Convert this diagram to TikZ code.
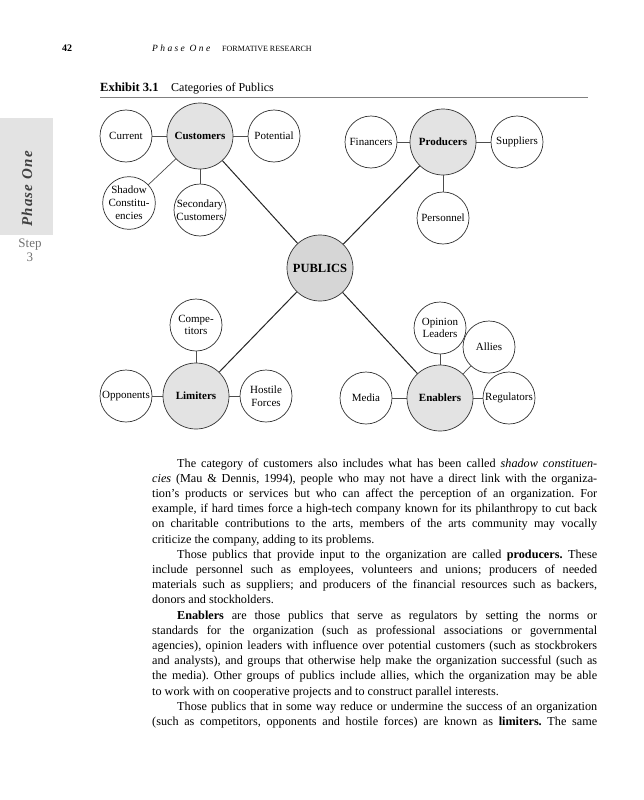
\documentclass[tikz,border=0pt]{standalone}
\usepackage{fontspec}
\setmainfont{Liberation Serif}
\begin{document}
\begin{tikzpicture}[x=1pt,y=-1pt,
  sub/.style={circle,draw=black!80,line width=0.7pt,fill=white,minimum size=52pt,inner sep=0pt,align=center,font=\fontsize{11}{12.8}\selectfont},
  hub/.style={sub,fill=gray!22,minimum size=66pt,font=\fontsize{11}{13}\selectfont\bfseries},
  core/.style={hub,fill=gray!32,font=\fontsize{12.5}{14}\selectfont\bfseries},
  link/.style={draw=black!70,line width=0.7pt},
  mainlink/.style={draw=black!85,line width=1pt},
  hdr/.style={inner sep=0pt,anchor=base west}]

\useasboundingbox (0,0) rectangle (643,800);
\fill[white] (0,0) rectangle (643,800);

% side tab
\fill[gray!22] (0,118) rectangle (53,235);
\node[rotate=90,inner sep=0pt,font=\fontsize{15}{15}\selectfont\bfseries\itshape,text=black!75] (phase) at (27,189) {\addfontfeature{LetterSpace=8}Phase One};
\node[inner sep=0pt,font=\fontsize{13}{13}\selectfont,text=black!55] (step) at (30,245) {Step};
\node[inner sep=0pt,font=\fontsize{13}{13}\selectfont,text=black!55] (stepn) at (30,257) {3};

% running head
\node[hdr,font=\fontsize{10}{10}\selectfont\bfseries] (pg) at (62,52) {42};
\node[hdr,font=\fontsize{9.5}{10}\selectfont\itshape] (rh1) at (152,52) {\addfontfeature{LetterSpace=25}Phase One};
\node[hdr,font=\fontsize{8}{10}\selectfont] (rh2) at (222,52) {FORMATIVE RESEARCH};

% exhibit title
\node[hdr,font=\fontsize{12.5}{14}\selectfont\bfseries] (ex) at (100,91) {Exhibit 3.1};
\node[hdr,font=\fontsize{12}{14}\selectfont] (cat) at (171,91) {Categories of Publics};
\draw[gray,line width=0.8pt] (100,97) -- (588,97);

% nodes
\node[hub] (cust) at (200,136) {Customers};
\node[sub] (curr) at (126,136) {Current};
\node[sub] (pot) at (274,136) {Potential};
\node[sub] (shad) at (129,203) {Shadow\\Constitu-\\encies};
\node[sub] (sec) at (200,210) {Secondary\\Customers};

\node[hub] (prod) at (443,142) {Producers};
\node[sub] (fin) at (371,142) {Financers};
\node[sub] (supp) at (517,142) {Suppliers};
\node[sub] (pers) at (443,218) {Personnel};

\node[core] (pub) at (320,268) {PUBLICS};

\node[sub] (comp) at (196,325) {Compe-\\titors};
\node[hub] (lim) at (196,396) {Limiters};
\node[sub] (opp) at (126,396) {Opponents};
\node[sub] (host) at (266,396) {Hostile\\Forces};

\node[sub] (opin) at (440,328) {Opinion\\Leaders};
\node[sub] (all) at (489,347) {Allies};
\node[sub] (med) at (366,398) {Media};
\node[hub] (enab) at (440,398) {Enablers};
\node[sub] (reg) at (509,398) {Regulators};

% connectors
\draw[mainlink] (cust) -- (pub);
\draw[mainlink] (prod) -- (pub);
\draw[mainlink] (lim) -- (pub);
\draw[mainlink] (enab) -- (pub);

\draw[link] (curr) -- (cust);
\draw[link] (cust) -- (pot);
\draw[link] (shad) -- (cust);
\draw[link] (cust) -- (sec);

\draw[link] (fin) -- (prod);
\draw[link] (prod) -- (supp);
\draw[link] (prod) -- (pers);

\draw[link] (comp) -- (lim);
\draw[link] (opp) -- (lim);
\draw[link] (lim) -- (host);

\draw[link] (opin) -- (enab);
\draw[link] (all) -- (enab);
\draw[link] (med) -- (enab);
\draw[link] (enab) -- (reg);

% body text
\node[inner sep=0pt,anchor=base west,font=\fontsize{12.2}{15.2}\selectfont] (body) at (152,467) {%
\begin{minipage}[t]{445pt}
\frenchspacing\tolerance=9999 \hbadness=10000 \hyphenpenalty=10000 \exhyphenpenalty=10000
\setlength{\parindent}{25pt}%
\indent The category of customers also includes what has been called \textit{shadow constituen-}\linebreak
\textit{cies} (Mau \& Dennis, 1994), people who may not have a direct link with the organiza-\linebreak
tion’s products or services but who can affect the perception of an organization. For\linebreak
example, if hard times force a high-tech company known for its philanthropy to cut back\linebreak
on charitable contributions to the arts, members of the arts community may vocally\linebreak
criticize the company, adding to its problems.\par
Those publics that provide input to the organization are called \textbf{producers.} These\linebreak
include personnel such as employees, volunteers and unions; producers of needed\linebreak
materials such as suppliers; and producers of the financial resources such as backers,\linebreak
donors and stockholders.\par
\textbf{Enablers} are those publics that serve as regulators by setting the norms or\linebreak
standards for the organization (such as professional associations or governmental\linebreak
agencies), opinion leaders with influence over potential customers (such as stockbrokers\linebreak
and analysts), and groups that otherwise help make the organization successful (such as\linebreak
the media). Other groups of publics include allies, which the organization may be able\linebreak
to work with on cooperative projects and to construct parallel interests.\par
Those publics that in some way reduce or undermine the success of an organization\linebreak
(such as competitors, opponents and hostile forces) are known as \textbf{limiters.} The same\parfillskip=0pt\par
\end{minipage}};
\end{tikzpicture}
\end{document}
